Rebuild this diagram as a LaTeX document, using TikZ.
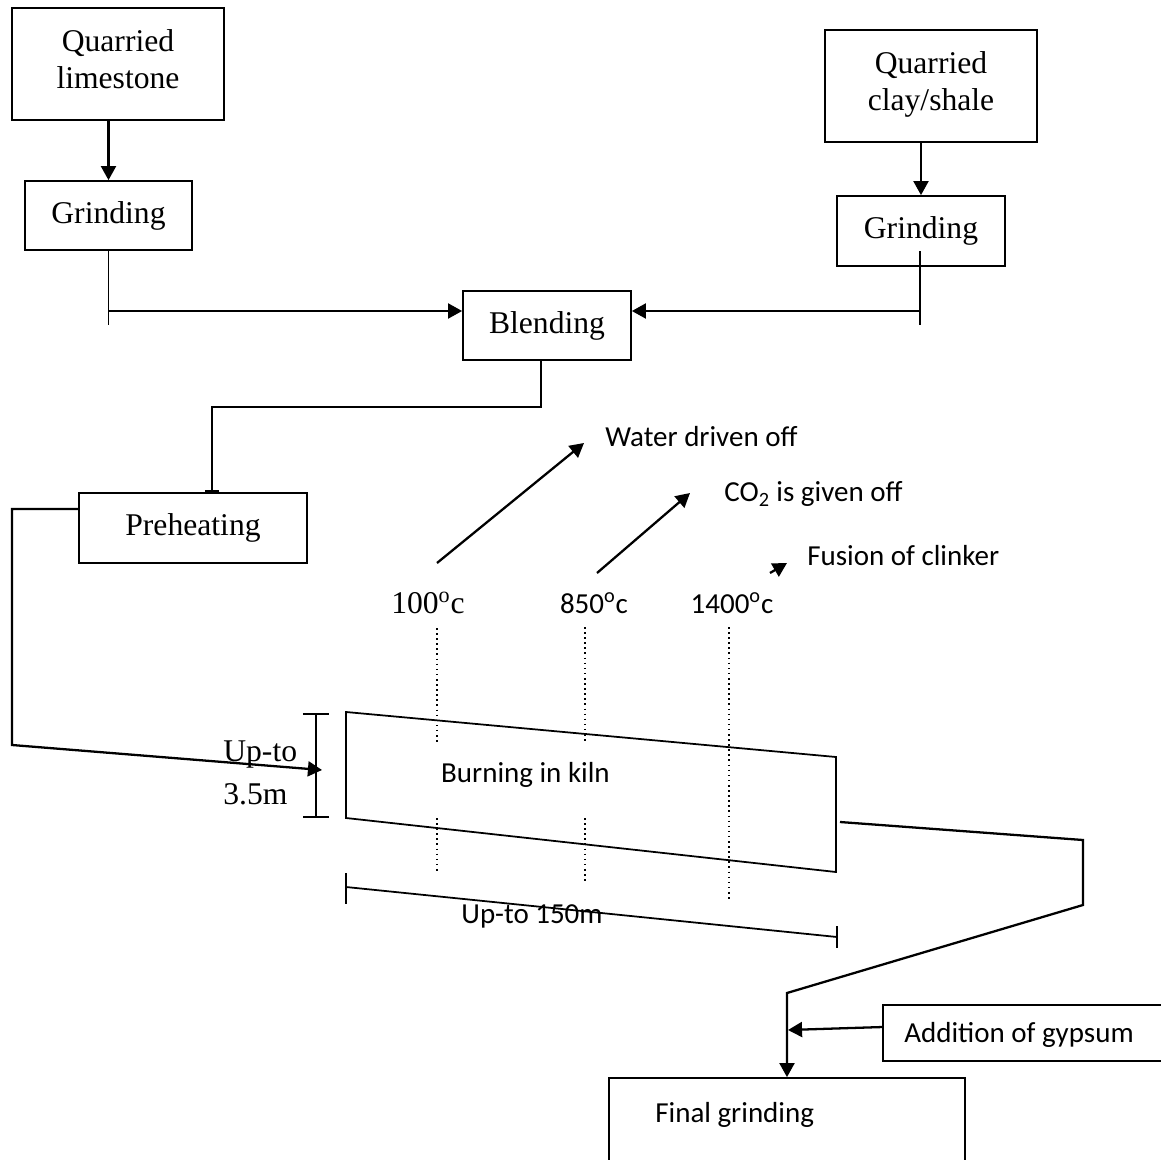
\documentclass[tikz,border=0pt]{standalone}
\usepackage{fontspec}
\setmainfont{Liberation Serif}
\newfontfamily\calibri{Carlito}
\usetikzlibrary{arrows.meta,positioning}

\begin{document}
\begin{tikzpicture}[x=0.02cm,y=-0.02cm,
        box/.style={rectangle,draw,line width=1pt,inner sep=0pt,align=center,font=\fontsize{18}{21}\selectfont},
        lab/.style={inner sep=0pt,align=left,font=\fontsize{18}{24.5}\selectfont},
        txt/.style={inner sep=0pt,font=\calibri\fontsize{16.5}{20}\selectfont},
        flow/.style={line width=1.3pt,-{Triangle[length=8pt,width=8.5pt]}},
        line/.style={line width=1pt},
        dots/.style={dotted,line width=0.9pt}]
        \useasboundingbox (0,0) rectangle (1161,1160);

        % raw materials
        \node[box,minimum width=4.24cm,minimum height=2.24cm,text depth=0.2cm] (lime) at (118,64) {Quarried\\limestone};
        \node[box,minimum width=3.34cm,minimum height=1.38cm] (gl) at (108.5,215.5) {Grinding};
        \node[box,minimum width=4.24cm,minimum height=2.24cm,text depth=0.2cm] (clay) at (931,86) {Quarried\\clay/shale};
        \node[box,minimum width=3.36cm,minimum height=1.4cm] (gr) at (921,231) {Grinding};
        \node[box,minimum width=3.36cm,minimum height=1.38cm] (blend) at (547,325.5) {Blending};
        \node[box,minimum width=4.56cm,minimum height=1.4cm] (pre) at (193,528) {Preheating};

        % output side
        \node[box,minimum width=5.94cm,minimum height=1.12cm] (gyp) at (1031.5,1033) {};
        \node[txt,anchor=west] (gyptxt) at (904,1035) {Addition of gypsum};
        \node[box,minimum width=7.12cm,minimum height=2.44cm] (final) at (787,1139) {};
        \node[txt,anchor=west] (finaltxt) at (655,1115) {Final grinding};

        % kiln
        \coordinate (k1) at (346,712);
        \coordinate (k2) at (836,757);
        \coordinate (k3) at (836,872);
        \coordinate (k4) at (346,818);
        \draw[line] (k1) -- (k2) -- (k3) -- (k4) -- cycle;
        \node[txt] (kiln) at (525.5,775) {Burning in kiln};

        \foreach \x/\a/\b/\c/\d in {437/628/745/818/872,585/627/743/818/884}
            \draw[dots] (\x,\a) -- (\x,\b) (\x,\c) -- (\x,\d);
        \draw[dots] (729,627) -- (729,901);

        \node[lab] (t1) at (428,603) {100\textsuperscript{o}c};
        \node[txt] (t2) at (594,603) {850\textsuperscript{o}c};
        \node[txt] (t3) at (732,603) {1400\textsuperscript{o}c};

        \node[txt,anchor=west] (water) at (605,437) {Water driven off};
        \node[txt,anchor=west] (co2) at (724,494) {CO\textsubscript{2} is given off};
        \node[txt,anchor=west] (fusion) at (807,556) {Fusion of clinker};

        \coordinate (a1) at (437,563);
        \coordinate (w1) at (584,443);
        \coordinate (a2) at (597,573);
        \coordinate (w2) at (690,493);
        \coordinate (a3) at (770,573);
        \coordinate (w3) at (787,563);
        \draw[flow] (a1) -- (w1);
        \draw[flow] (a2) -- (w2);
        \draw[flow] (a3) -- (w3);

        % dimensions
        \coordinate (h1) at (316,713);
        \coordinate (h2) at (316,818);
        \draw[line,{Bar[width=15pt]}-{Bar[width=15pt]}] (h1) -- (h2);
        \node[lab,anchor=west] (dimh) at (223,773) {Up-to\\3.5m};

        \coordinate (l1) at (346,887);
        \coordinate (l2) at (837,937);
        \draw[line] (l1) -- (l2);
        \draw[line] ([shift={(0,-14)}]l1) -- ([shift={(0,17)}]l1);
        \draw[line] ([shift={(0,-11)}]l2) -- ([shift={(0,11)}]l2);
        \node[txt] (diml) at (532,916) {Up-to 150m};

        % connectors
        \draw[flow] (gl.north |- lime.south) -- (gl.north);
        \draw[flow] (gr.north |- clay.south) -- (gr.north);

        \coordinate (jl) at (108.5,311);
        \coordinate (jlend) at (108.5,325);
        \coordinate (jrtop) at (920,251);
        \coordinate (jr) at (920,311);
        \coordinate (jrend) at (920,325);
        \draw[line] (gl.south) -- (jlend);
        \draw[flow] (jl) -- (jl -| blend.west);
        \draw[line] (jrtop) -- (jrend);
        \draw[flow] (jr) -- (jr -| blend.east);

        \coordinate (b1) at (541,407);
        \coordinate (b2) at (212,407);
        \draw[line,-{Bar[width=8.5pt]}] (b1 |- blend.south) -- (b1) -- (b2) -- (b2 |- pre.north);

        \coordinate (p1) at (12,509);
        \coordinate (p2) at (12,745);
        \coordinate (kin) at (322,770);
        \draw[flow] (p1 -| pre.west) -- (p1) -- (p2) -- (kin);

        \coordinate (e1) at (840,822);
        \coordinate (e2) at (1083,840);
        \coordinate (e3) at (1083,905);
        \coordinate (e4) at (787,993);
        \draw[flow] (e1) -- (e2) -- (e3) -- (e4) -- (final.north);

        \coordinate (g1) at (788,1030);
        \draw[flow] ([yshift=3.4pt]gyp.west) -- (g1);
    \end{tikzpicture}
\end{document}
